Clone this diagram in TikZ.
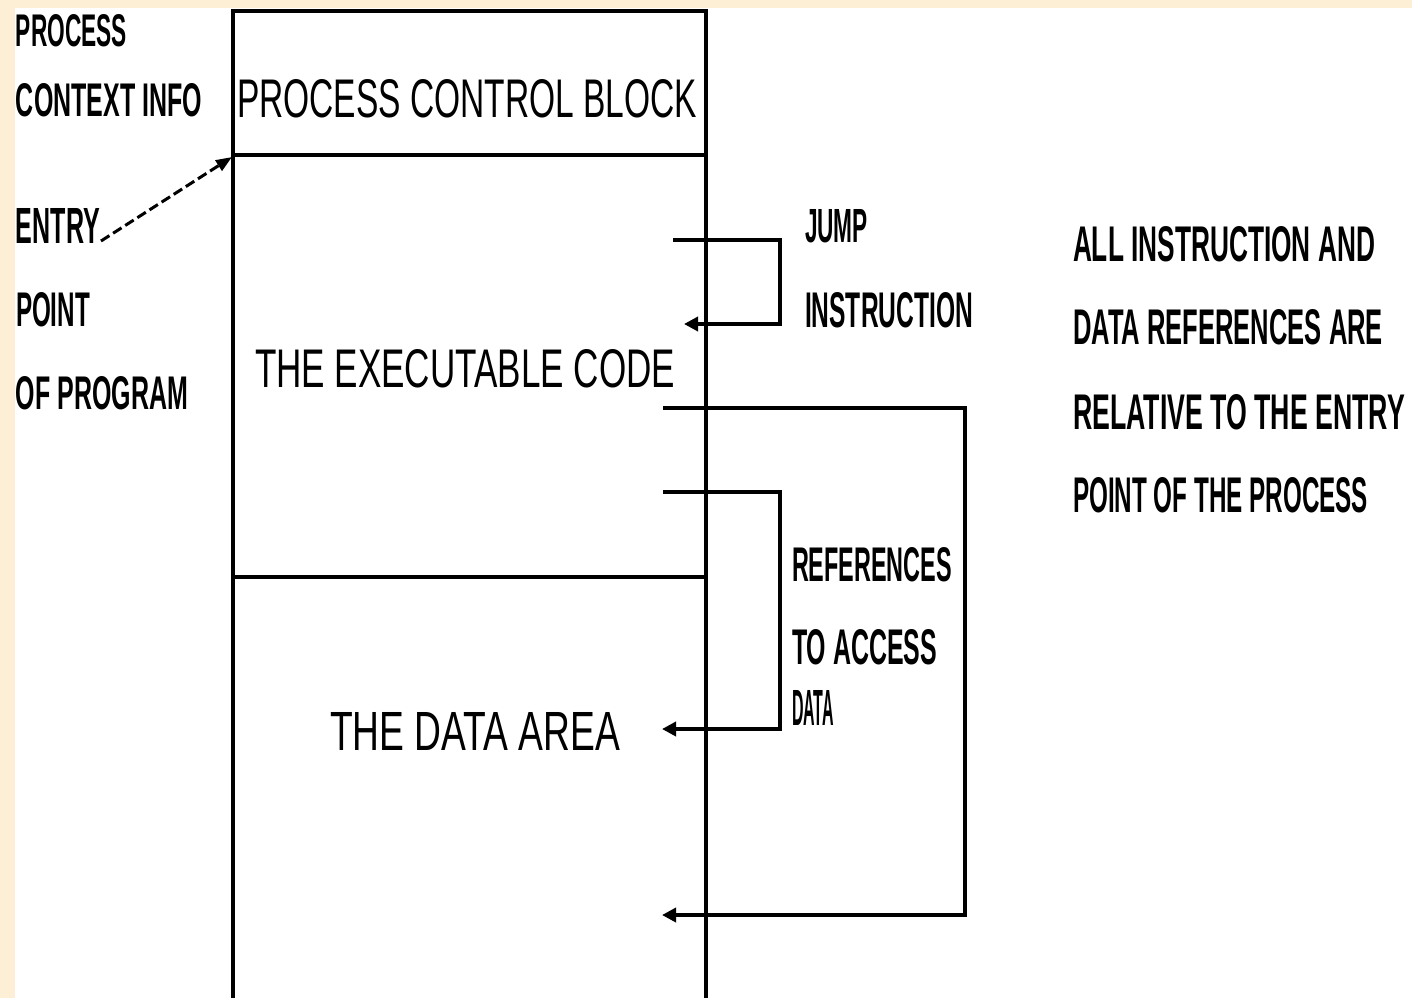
\documentclass[tikz,border=0pt]{standalone}
\usepackage{fontspec}
\setmainfont{Liberation Sans}
\usetikzlibrary{arrows.meta}
\definecolor{paper}{HTML}{FCEFD6}

% \lbl{name}{left x}{bottom y}{width}{cap height}{text} -- all in pixel units
\newcommand{\lbl}[6]{%
  \node[lbltext] (#1) at (#2,#3)
    {\resizebox{\dimexpr0.5pt*#4\relax}{\dimexpr0.5pt*#5\relax}{#6}};}
% same, with the heavier face used for the side notes
\newcommand{\note}[6]{\lbl{#1}{#2}{#3}{#4}{#5}{\bfseries #6}}

\begin{document}
\begin{tikzpicture}[x=0.5pt,y=-0.5pt,
  lbltext/.style={anchor=south west,inner sep=0pt,outer sep=0pt},
  wall/.style={line width=1.9pt},
  ref/.style={line width=1.9pt,-{Triangle[length=7pt,width=7pt]}},
  entryarrow/.style={line width=1.5pt,dash pattern=on 5pt off 2.2pt,
    -{Triangle[length=8pt,width=6pt]}}]

\useasboundingbox (0,0) rectangle (1412,998);
\fill[paper] (0,0) rectangle (1412,998);
\fill[white] (15,8) rectangle (1412,998);

% memory image of the process
\coordinate (tl) at (233,11);
\coordinate (tr) at (706,11);
\coordinate (bl) at (233,998);
\coordinate (br) at (706,998);
\coordinate (pcbL) at (233,155);
\coordinate (pcbR) at (706,155);
\coordinate (codeL) at (233,577);
\coordinate (codeR) at (706,577);
\draw[wall] (bl) -- (tl) -- (tr) -- (br);
\draw[wall] (pcbL) -- (pcbR);
\draw[wall] (codeL) -- (codeR);

% labels inside the image
\lbl{pcb}{237}{118}{460}{38}{PROCESS CONTROL BLOCK}
\lbl{code}{255}{388}{420}{38}{THE EXECUTABLE CODE}
\lbl{data}{330}{750}{290}{38}{THE DATA AREA}

% labels on the left
\note{proc}{16}{47}{111}{32}{PROCESS}
\note{ctx}{16}{117}{186}{33}{CONTEXT INFO}
\note{entry}{16}{243}{84}{35}{ENTRY}
\note{point}{16}{327}{74}{34}{POINT}
\note{ofprog}{16}{410}{172}{33}{OF PROGRAM}

% entry point arrow
\coordinate (eS) at (101,241);
\coordinate (eE) at (232,157);
\draw[entryarrow] (eS) -- (eE);

% jump instruction
\coordinate (jA) at (673,240);
\coordinate (jB) at (780,240);
\coordinate (jC) at (780,324);
\coordinate (jD) at (684,324);
\draw[ref] (jA) -- (jB) -- (jC) -- (jD);
\note{jump}{805}{243}{63}{33}{JUMP}
\note{instr}{805}{328}{168}{35}{INSTRUCTION}

% data references
\coordinate (fA) at (663,408);
\coordinate (fB) at (965,408);
\coordinate (fC) at (965,915);
\coordinate (fD) at (662,915);
\draw[ref] (fA) -- (fB) -- (fC) -- (fD);

\coordinate (dA) at (663,492);
\coordinate (dB) at (780,492);
\coordinate (dC) at (780,729);
\coordinate (dD) at (662,729);
\draw[ref] (dA) -- (dB) -- (dC) -- (dD);

\note{refs}{792}{582}{160}{34}{REFERENCES}
\note{toacc}{792}{665}{145}{35}{TO ACCESS}
\note{dataw}{792}{725}{42}{35}{DATA}

% note on the right
\note{n1}{1073}{262}{302}{35}{ALL  INSTRUCTION  AND}
\note{n2}{1073}{345}{310}{35}{DATA  REFERENCES  ARE}
\note{n3}{1073}{430}{332}{35}{RELATIVE  TO  THE  ENTRY}
\note{n4}{1073}{513}{295}{35}{POINT OF THE PROCESS}

\end{tikzpicture}
\end{document}
